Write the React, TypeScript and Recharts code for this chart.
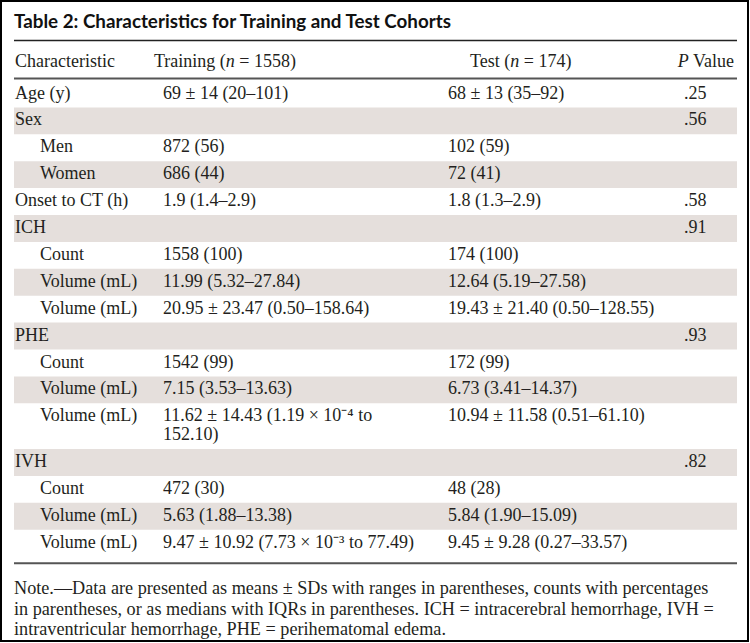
import { ScatterChart, Scatter, XAxis, YAxis, ReferenceArea, ReferenceLine } from "recharts";

const title = "Table 2: Characteristics for Training and Test Cohorts";
const columnHeaders = ["Characteristic", "Training (*n* = 1558)", "Test (*n* = 174)", "*P* Value"];

const characteristics = [
  "Age (y)", "Sex", "Men", "Women", "Onset to CT (h)", "ICH", "Count", "Volume (mL)", "Volume (mL)",
  "PHE", "Count", "Volume (mL)", "Volume (mL)", "IVH", "Count", "Volume (mL)", "Volume (mL)",
];
const subRows = [false, false, true, true, false, false, true, true, true, false, true, true, true, false, true, true, true];
const trainingValues = [
  "69 ± 14 (20–101)", "", "872 (56)", "686 (44)", "1.9 (1.4–2.9)", "", "1558 (100)", "11.99 (5.32–27.84)",
  "20.95 ± 23.47 (0.50–158.64)", "", "1542 (99)", "7.15 (3.53–13.63)", "11.62 ± 14.43 (1.19 × 10⁻⁴ to\n152.10)",
  "", "472 (30)", "5.63 (1.88–13.38)", "9.47 ± 10.92 (7.73 × 10⁻³ to 77.49)",
];
const testValues = [
  "68 ± 13 (35–92)", "", "102 (59)", "72 (41)", "1.8 (1.3–2.9)", "", "174 (100)", "12.64 (5.19–27.58)",
  "19.43 ± 21.40 (0.50–128.55)", "", "172 (99)", "6.73 (3.41–14.37)", "10.94 ± 11.58 (0.51–61.10)",
  "", "48 (28)", "5.84 (1.90–15.09)", "9.45 ± 9.28 (0.27–33.57)",
];
const pValues = [".25", ".56", "", "", ".58", ".91", "", "", "", ".93", "", "", "", ".82", "", "", ""];

const noteLines = [
  "Note.—Data are presented as means ± SDs with ranges in parentheses, counts with percentages",
  "in parentheses, or as medians with IQRs in parentheses. ICH = intracerebral hemorrhage, IVH =",
  "intraventricular hemorrhage, PHE = perihematomal edema.",
];

// layout (pixels)
const W = 750;
const H = 643;
const ROW_PX = 26.9;
const FIRST_ROW_PX = 80.5;
const EXTRA_LINE = 0.7; // in row units
const BASELINE = 0.67; // baseline offset inside a row, row units
const LEFT = 14;
const RIGHT = 737;
const COL = { label: 15, indent: 40, trainHead: 154, train: 163, testHead: 470, test: 448, pHead: 734, p: 684 };
const SHADE = "#e5dfdc";
const INK = "#231f20";
const SERIF = "'Liberation Serif', 'Times New Roman', serif";
const SANS = "Lato, 'Noto Sans', sans-serif";

const toUnit = (px: number) => (px - FIRST_ROW_PX) / ROW_PX;

// row tops in row units
const lineCounts = trainingValues.map((t, i) =>
  Math.max(t.split("\n").length, testValues[i].split("\n").length)
);
const rowTops: number[] = [];
const rowHeights: number[] = [];
let acc = 0;
lineCounts.forEach((n) => {
  rowTops.push(acc);
  const h = 1 + (n - 1) * EXTRA_LINE;
  rowHeights.push(h);
  acc += h;
});
const tableEnd = acc;

type Cell = { x: number; y: number; text: string; anchor: "start" | "end"; kind: "title" | "body" | "note" };

const cells: Cell[] = [];
cells.push({ x: LEFT, y: toUnit(27.5), text: title, anchor: "start", kind: "title" });
const headY = toUnit(66.5);
cells.push({ x: LEFT + 1, y: headY, text: columnHeaders[0], anchor: "start", kind: "body" });
cells.push({ x: COL.trainHead, y: headY, text: columnHeaders[1], anchor: "start", kind: "body" });
cells.push({ x: COL.testHead, y: headY, text: columnHeaders[2], anchor: "start", kind: "body" });
cells.push({ x: COL.pHead, y: headY, text: columnHeaders[3], anchor: "end", kind: "body" });

characteristics.forEach((label, i) => {
  const base = rowTops[i] + BASELINE;
  cells.push({ x: subRows[i] ? COL.indent : COL.label, y: base, text: label, anchor: "start", kind: "body" });
  trainingValues[i].split("\n").forEach((t, k) => {
    if (t) cells.push({ x: COL.train, y: base + k * EXTRA_LINE, text: t, anchor: "start", kind: "body" });
  });
  testValues[i].split("\n").forEach((t, k) => {
    if (t) cells.push({ x: COL.test, y: base + k * EXTRA_LINE, text: t, anchor: "start", kind: "body" });
  });
  if (pValues[i]) cells.push({ x: COL.p, y: base, text: pValues[i], anchor: "start", kind: "body" });
});

noteLines.forEach((t, k) => {
  cells.push({ x: LEFT, y: toUnit(594 + k * 20.5), text: t, anchor: "start", kind: "note" });
});

const renderRich = (text: string) =>
  text.split("*").map((seg, k) => (
    <tspan key={k} fontStyle={k % 2 === 1 ? "italic" : "normal"}>
      {seg}
    </tspan>
  ));

const CellText = (props: any) => {
  const { cx, cy, payload } = props;
  const c = payload as Cell;
  if (c.kind === "title") {
    return (
      <text x={cx} y={cy} fontFamily={SANS} fontWeight={700} fontSize={18.8} fill="#111">
        {c.text}
      </text>
    );
  }
  return (
    <text x={cx} y={cy} textAnchor={c.anchor} fontFamily={SERIF} fontSize={c.kind === "note" ? 18.2 : 18} fill={INK}>
      {renderRich(c.text)}
    </text>
  );
};

export default function App() {
  return (
    <div style={{ position: "absolute", left: 0, top: 0, width: W, height: H, background: "#fff" }}>
      <ScatterChart width={W} height={H} margin={{ top: 0, right: 0, bottom: 0, left: 0 }}>
        <XAxis type="number" dataKey="x" domain={[0, W]} hide />
        <YAxis type="number" dataKey="y" domain={[toUnit(0), toUnit(H)]} reversed hide />
        {rowTops.map((top, i) =>
          i % 2 === 1 ? (
            <ReferenceArea
              key={i}
              x1={LEFT}
              x2={RIGHT}
              y1={top}
              y2={top + rowHeights[i]}
              fill={SHADE}
              fillOpacity={1}
              strokeWidth={0}
            />
          ) : null
        )}
        <ReferenceLine segment={[{ x: LEFT, y: toUnit(40.5) }, { x: RIGHT, y: toUnit(40.5) }]} stroke="#222" strokeWidth={1.5} />
        <ReferenceLine segment={[{ x: LEFT, y: toUnit(78.5) }, { x: RIGHT, y: toUnit(78.5) }]} stroke="#555" strokeWidth={2} />
        <ReferenceLine
          segment={[{ x: LEFT, y: tableEnd + 0.25 }, { x: RIGHT, y: tableEnd + 0.25 }]}
          stroke="#555"
          strokeWidth={2}
        />
        <Scatter data={cells} shape={CellText} isAnimationActive={false} />
      </ScatterChart>
      <div
        style={{
          position: "absolute",
          left: 0,
          top: 0,
          width: W - 1,
          height: H - 1,
          border: "2px solid #000",
          boxSizing: "border-box",
          pointerEvents: "none",
        }}
      />
    </div>
  );
}
